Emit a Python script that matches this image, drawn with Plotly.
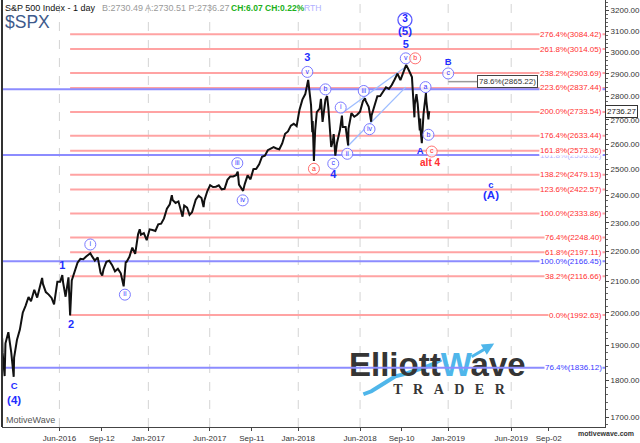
import math

import plotly.graph_objects as go

FONT = "Arial, Liberation Sans, sans-serif"
BLUE = "#1f2fff"
RED = "#ff3030"

# S&P 500 closes plus swing highs/lows
dates_2016 = [
    "2016-01-13", "2016-01-14", "2016-01-15", "2016-01-20", "2016-01-22", "2016-01-29",
    "2016-02-05", "2016-02-11", "2016-02-12", "2016-02-19", "2016-02-26",
    "2016-03-04", "2016-03-11", "2016-03-18", "2016-03-24",
    "2016-04-01", "2016-04-08", "2016-04-15", "2016-04-20", "2016-04-22", "2016-04-29",
    "2016-05-06", "2016-05-13", "2016-05-19", "2016-05-27",
    "2016-06-03", "2016-06-08", "2016-06-10", "2016-06-16", "2016-06-23", "2016-06-27",
    "2016-07-01", "2016-07-08", "2016-07-15", "2016-07-22", "2016-07-29",
    "2016-08-05", "2016-08-15", "2016-08-19", "2016-08-26",
    "2016-09-02", "2016-09-09", "2016-09-13", "2016-09-16", "2016-09-23", "2016-09-30",
    "2016-10-07", "2016-10-14", "2016-10-21", "2016-10-28",
    "2016-11-04", "2016-11-09", "2016-11-11", "2016-11-18", "2016-11-25",
    "2016-12-02", "2016-12-09", "2016-12-13", "2016-12-16", "2016-12-23", "2016-12-30",
]
values_2016 = [
    1890.3, 1921.8, 1880.3, 1812.3, 1906.9, 1940.2,
    1880.1, 1810.1, 1864.8, 1917.8, 1948.1,
    2000.0, 2022.2, 2049.6, 2035.9,
    2072.8, 2047.6, 2080.7, 2111.1, 2091.6, 2065.3,
    2057.1, 2046.6, 2025.9, 2099.1,
    2099.1, 2120.6, 2096.1, 2050.4, 2113.3, 1991.7,
    2103.0, 2129.9, 2161.7, 2175.0, 2173.6,
    2182.9, 2193.8, 2183.9, 2169.0,
    2180.0, 2127.8, 2119.1, 2139.2, 2164.7, 2168.3,
    2153.7, 2133.0, 2141.2, 2126.4,
    2083.8, 2163.3, 2164.5, 2181.9, 2213.4,
    2192.0, 2259.5, 2277.5, 2258.1, 2263.8, 2238.8,
]

dates_2017 = [
    "2017-01-06", "2017-01-13", "2017-01-20", "2017-01-27",
    "2017-02-03", "2017-02-10", "2017-02-17", "2017-02-24",
    "2017-03-01", "2017-03-03", "2017-03-10", "2017-03-17", "2017-03-24", "2017-03-27", "2017-03-31",
    "2017-04-07", "2017-04-13", "2017-04-19", "2017-04-21", "2017-04-28",
    "2017-05-05", "2017-05-12", "2017-05-17", "2017-05-19", "2017-05-26",
    "2017-06-02", "2017-06-09", "2017-06-16", "2017-06-23", "2017-06-30",
    "2017-07-07", "2017-07-14", "2017-07-21", "2017-07-28",
    "2017-08-04", "2017-08-08", "2017-08-11", "2017-08-18", "2017-08-21", "2017-08-25",
    "2017-09-01", "2017-09-08", "2017-09-15", "2017-09-22", "2017-09-29",
    "2017-10-06", "2017-10-13", "2017-10-20", "2017-10-27",
    "2017-11-03", "2017-11-10", "2017-11-17", "2017-11-24",
    "2017-12-01", "2017-12-08", "2017-12-15", "2017-12-22", "2017-12-29",
]
values_2017 = [
    2277.0, 2274.6, 2271.3, 2294.7,
    2297.4, 2316.1, 2351.2, 2367.3,
    2401.0, 2383.1, 2372.6, 2378.3, 2344.0, 2322.3, 2362.7,
    2355.5, 2329.0, 2338.2, 2348.7, 2384.2,
    2399.3, 2390.9, 2357.0, 2381.7, 2415.8,
    2439.1, 2431.8, 2433.2, 2438.3, 2423.4,
    2425.2, 2459.3, 2472.5, 2472.1,
    2476.8, 2490.9, 2441.3, 2425.6, 2417.4, 2443.1,
    2476.6, 2461.4, 2500.2, 2502.2, 2519.4,
    2549.3, 2553.2, 2575.2, 2581.1,
    2587.8, 2582.3, 2578.9, 2602.4,
    2642.2, 2651.5, 2675.8, 2683.3, 2673.6,
]

dates_2018 = [
    "2018-01-05", "2018-01-12", "2018-01-19", "2018-01-26",
    "2018-02-02", "2018-02-05", "2018-02-06", "2018-02-08", "2018-02-09", "2018-02-12",
    "2018-02-16", "2018-02-23", "2018-02-26",
    "2018-03-02", "2018-03-09", "2018-03-13", "2018-03-16", "2018-03-23", "2018-03-27", "2018-03-29",
    "2018-04-02", "2018-04-06", "2018-04-13", "2018-04-18", "2018-04-20", "2018-04-27",
    "2018-05-03", "2018-05-04", "2018-05-11", "2018-05-18", "2018-05-25",
    "2018-06-01", "2018-06-08", "2018-06-13", "2018-06-15", "2018-06-22", "2018-06-28", "2018-06-29",
    "2018-07-06", "2018-07-13", "2018-07-20", "2018-07-27",
    "2018-08-03", "2018-08-10", "2018-08-17", "2018-08-24", "2018-08-31",
    "2018-09-07", "2018-09-14", "2018-09-21", "2018-09-28",
    "2018-10-05", "2018-10-11", "2018-10-12", "2018-10-16", "2018-10-19",
    "2018-10-24", "2018-10-25", "2018-10-26", "2018-10-29",
    "2018-11-02", "2018-11-07", "2018-11-08", "2018-11-09", "2018-11-14", "2018-11-16",
]
values_2018 = [
    2743.2, 2786.2, 2810.3, 2872.9,
    2762.1, 2648.9, 2695.1, 2581.0, 2532.7, 2656.0,
    2732.2, 2747.3, 2789.2,
    2691.3, 2786.6, 2801.9, 2752.0, 2588.3, 2612.6, 2640.9,
    2553.8, 2604.5, 2656.3, 2717.5, 2670.1, 2669.9,
    2594.6, 2663.4, 2727.7, 2713.0, 2721.3,
    2734.6, 2779.0, 2791.5, 2779.7, 2754.9, 2692.0, 2718.4,
    2759.8, 2801.3, 2801.8, 2818.8,
    2840.4, 2833.3, 2850.1, 2874.7, 2901.5,
    2871.7, 2905.0, 2940.9, 2914.0,
    2885.6, 2710.5, 2767.1, 2809.9, 2767.8,
    2656.1, 2705.6, 2658.7, 2603.5,
    2723.1, 2813.9, 2815.2, 2781.0, 2701.6, 2736.3,
]

# fib extension levels (red) and retracement levels (blue)
red_levels = [3084.42, 3014.05, 2903.69, 2837.44, 2733.54, 2633.44, 2573.36,
              2479.13, 2422.57, 2333.86, 2248.40, 2197.11, 2116.66, 1992.63]
red_pcts = ["276.4%", "261.8%", "238.2%", "223.6%", "200.0%", "176.4%", "161.8%",
            "138.2%", "123.6%", "100.0%", "76.4%", "61.8%", "38.2%", "0.0%"]
red_start = "2016-06-27"

blue_levels = [2832.0, 2556.0, 2166.45, 1836.12]
blue_labels = ["", "161.8%(2556.02)", "100.0%(2166.45)", "76.4%(1836.12)"]
blue_label_colors = ["#3a3aff", "#b4b4ff", "#3a3aff", "#3a3aff"]

# wave count labels
digit_text = ["1", "2", "3", "4", "5"]
digit_x = ["2016-06-08", "2016-06-29", "2018-01-24", "2018-03-28", "2018-09-20"]
digit_y = [2149, 1961, 2970, 2476, 3031]

letter_text = ["C", "A", "B", "c"]
letter_x = ["2016-02-12", "2018-10-25", "2019-01-01", "2019-04-15"]
letter_y = [1783, 2570, 2950, 2438]

degree_text = ["(4)", "(5)", "(A)"]
degree_x = ["2016-02-12", "2018-09-18", "2019-04-15"]
degree_y = [1744, 3093, 2397]

circ_blue_text = ["i", "ii", "iii", "iv", "v", "b", "c", "i", "ii", "iii", "iv", "v", "a", "b", "c"]
circ_blue_x = ["2016-08-15", "2016-11-07", "2017-08-07", "2017-08-20", "2018-01-24",
               "2018-03-09", "2018-03-28", "2018-04-15", "2018-05-01", "2018-06-10",
               "2018-06-24", "2018-09-20", "2018-11-07", "2018-11-14", "2019-01-01"]
circ_blue_y = [2224, 2057, 2524, 2382, 2909, 2831, 2522, 2752, 2561, 2824,
               2661, 2971, 2841, 2638, 2902]

circ_red_text = ["a", "b", "c"]
circ_red_x = ["2018-02-09", "2018-10-13", "2018-11-22"]
circ_red_y = [2502, 2971, 2570]

big_circle = ("3", "2018-09-18", 3154)
alt_label = ("alt 4", "2018-11-18", 2522)

channel_upper_x = ["2018-04-18", "2018-09-20"]
channel_upper_y = [2728, 2932]
channel_lower_x = ["2018-05-02", "2018-09-20"]
channel_lower_y = [2591, 2841]

target_x = ["2019-01-01", "2019-03-12"]
target_level = 2865.22
target_label = "78.6%(2865.22)"
last_price = 2736.27

y_ticks = [1700, 1800, 1900, 2000, 2100, 2200, 2300, 2400, 2500, 2600,
           2700, 2800, 2900, 3000, 3100, 3200]
x_ticks = ["2016-06-01", "2016-09-12", "2017-01-03", "2017-06-01", "2017-09-11",
           "2018-01-02", "2018-06-01", "2018-09-10", "2019-01-01", "2019-06-03", "2019-09-02"]
x_tick_text = ["Jun-2016", "Sep-12", "Jan-2017", "Jun-2017", "Sep-11", "Jan-2018",
               "Jun-2018", "Sep-10", "Jan-2019", "Jun-2019", "Sep-02"]
grid_dates = ["2016-06-01", "2017-01-03", "2017-06-01", "2018-01-02",
              "2018-06-01", "2019-01-01", "2019-06-03"]

X_START, X_END = "2016-01-13 14:00", "2020-01-16 19:00"
Y_LOW, Y_HIGH = 1674.2, 3253.3


def paper_xy(px, py):
    # plot area spans pixels x 2..606, y 0..430
    return (px - 2) / 604, (430 - py) / 430


fig = go.Figure()

# logo (behind everything)
fig.add_trace(go.Scatter(
    x=["2018-12-05 14:00"], y=[1834.6], mode="text",
    text=["<b>Elliott<span style='color:#4fb6ea'>W</span>ave</b>"],
    textfont=dict(family=FONT, size=33, color="#353535"), hoverinfo="skip"))
fig.add_trace(go.Scatter(
    x=["2019-01-03"], y=[1772], mode="text",
    text=["<b>" + "\u2002\u2005".join("TRADER") + "</b>"],
    textfont=dict(family="Liberation Serif, serif", size=14, color="#353535"), hoverinfo="skip"))

# fib lines
rx, ry = [], []
for lvl in red_levels:
    rx += [red_start, X_END, None]
    ry += [lvl, lvl, None]
fig.add_trace(go.Scatter(x=rx, y=ry, mode="lines", line=dict(color="#ffa3a3", width=2), hoverinfo="skip"))

bx, by = [], []
for lvl in blue_levels:
    bx += [X_START, X_END, None]
    by += [lvl, lvl, None]
fig.add_trace(go.Scatter(x=bx, y=by, mode="lines", line=dict(color="#8c8cff", width=2), hoverinfo="skip"))

# channel and target pointer
fig.add_trace(go.Scatter(x=channel_upper_x, y=channel_upper_y, mode="lines",
                         line=dict(color="#9dbdff", width=1.3), hoverinfo="skip"))
fig.add_trace(go.Scatter(x=channel_lower_x, y=channel_lower_y, mode="lines",
                         line=dict(color="#9dbdff", width=1.3), hoverinfo="skip"))
fig.add_trace(go.Scatter(x=target_x, y=[target_level, target_level], mode="lines",
                         line=dict(color="#999999", width=1.5), hoverinfo="skip"))

# price
fig.add_trace(go.Scatter(x=dates_2016 + dates_2017 + dates_2018,
                         y=values_2016 + values_2017 + values_2018,
                         mode="lines", line=dict(color="#111111", width=2), hoverinfo="skip"))

# wave labels
fig.add_trace(go.Scatter(x=digit_x, y=digit_y, mode="text", text=["<b>%s</b>" % t for t in digit_text],
                         textfont=dict(family=FONT, size=11, color=BLUE), hoverinfo="skip"))
fig.add_trace(go.Scatter(x=letter_x, y=letter_y, mode="text", text=["<b>%s</b>" % t for t in letter_text],
                         textfont=dict(family=FONT, size=9.5, color=BLUE), hoverinfo="skip"))
fig.add_trace(go.Scatter(x=degree_x, y=degree_y, mode="text", text=["<b>%s</b>" % t for t in degree_text],
                         textfont=dict(family=FONT, size=11.5, color=BLUE), hoverinfo="skip"))
fig.add_trace(go.Scatter(x=[alt_label[1]], y=[alt_label[2]], mode="text", text=["<b>%s</b>" % alt_label[0]],
                         textfont=dict(family=FONT, size=10, color=RED), hoverinfo="skip"))

fig.add_trace(go.Scatter(
    x=circ_blue_x, y=circ_blue_y, mode="markers+text", text=circ_blue_text, textposition="middle center",
    marker=dict(symbol="circle", size=11, color="rgba(255,255,255,0.8)", line=dict(color="#7a7aff", width=1)),
    textfont=dict(family=FONT, size=7, color="#3535ff"), hoverinfo="skip"))
fig.add_trace(go.Scatter(
    x=circ_red_x, y=circ_red_y, mode="markers+text", text=circ_red_text, textposition="middle center",
    marker=dict(symbol="circle", size=11, color="rgba(255,255,255,0.8)", line=dict(color="#ff7070", width=1)),
    textfont=dict(family=FONT, size=7, color=RED), hoverinfo="skip"))
fig.add_trace(go.Scatter(
    x=[big_circle[1]], y=[big_circle[2]], mode="markers+text", text=["<b>%s</b>" % big_circle[0]],
    textposition="middle center",
    marker=dict(symbol="circle", size=14, color="rgba(255,255,255,0.8)", line=dict(color="#5a5aff", width=1.3)),
    textfont=dict(family=FONT, size=10, color="#1a1aff"), hoverinfo="skip"))

# level labels on the right
for lvl, lab, col in zip(blue_levels, blue_labels, blue_label_colors):
    if lab:
        fig.add_annotation(x=0.996, xref="paper", xanchor="right", y=math.log10(lvl), yref="y",
                           text=lab, showarrow=False, bgcolor="white", borderpad=0,
                           font=dict(family=FONT, size=8, color=col))
for lvl, pct in zip(red_levels, red_pcts):
    fig.add_annotation(x=0.996, xref="paper", xanchor="right", y=math.log10(lvl), yref="y",
                       text="%s(%.2f)" % (pct, lvl), showarrow=False, bgcolor="white", borderpad=0,
                       font=dict(family=FONT, size=8, color=RED))

fig.add_annotation(x=target_x[1], xanchor="left", y=math.log10(target_level), yref="y",
                   text=target_label, showarrow=False, bgcolor="white", bordercolor="#444444",
                   borderwidth=1, borderpad=1, font=dict(family=FONT, size=8, color="#333333"))
fig.add_annotation(x=1, xref="paper", xanchor="left", y=math.log10(last_price), yref="y",
                   text="%.2f" % last_price, showarrow=False, bgcolor="white", bordercolor="#333333",
                   borderwidth=1, borderpad=1, font=dict(family=FONT, size=8, color="#222222"))

# header
hx, hy = paper_xy(3, 8)
fig.add_annotation(x=hx, y=hy, xref="paper", yref="paper", xanchor="left", yanchor="middle",
                   text="S&P 500 Index - 1 day", showarrow=False, font=dict(family=FONT, size=9, color="#111111"))
hx, _ = paper_xy(100, 8)
fig.add_annotation(x=hx, y=hy, xref="paper", yref="paper", xanchor="left", yanchor="middle",
                   text="B:2730.49 A:2730.51 P:2736.27", showarrow=False,
                   font=dict(family=FONT, size=9, color="#9a9a9a"))
hx, _ = paper_xy(229, 8)
fig.add_annotation(x=hx, y=hy, xref="paper", yref="paper", xanchor="left", yanchor="middle",
                   text="<b>CH:6.07 CH:0.22%</b>", showarrow=False,
                   font=dict(family=FONT, size=8.5, color="#20b020"))
hx, _ = paper_xy(302, 8)
fig.add_annotation(x=hx, y=hy, xref="paper", yref="paper", xanchor="left", yanchor="middle",
                   text="RTH", showarrow=False, font=dict(family=FONT, size=8.5, color="#b0b0ff"))
hx, hy = paper_xy(3, 22)
fig.add_annotation(x=hx, y=hy, xref="paper", yref="paper", xanchor="left", yanchor="middle",
                   text="$SPX", showarrow=False, font=dict(family=FONT, size=17.5, color="#3d5a8c"))
hx, hy = paper_xy(4, 423)
fig.add_annotation(x=hx, y=hy, xref="paper", yref="paper", xanchor="left", yanchor="middle",
                   text="MotiveWave", showarrow=False, font=dict(family=FONT, size=9, color="#555555"))
hx, hy = paper_xy(637, 437)
fig.add_annotation(x=hx, y=hy, xref="paper", yref="paper", xanchor="right", yanchor="middle",
                   text="<b>motivewave.com</b>", showarrow=False, font=dict(family=FONT, size=7, color="#333333"))

# logo arrow
ax_, ay_ = paper_xy(495, 346)
fig.add_annotation(x=ax_, y=ay_, xref="paper", yref="paper", text="", showarrow=True,
                   ax=-24, ay=14, arrowhead=2, arrowsize=0.8, arrowwidth=3, arrowcolor="#4fb6ea")

shapes = []
for d in grid_dates:
    shapes.append(dict(type="line", xref="x", yref="paper", x0=d, x1=d, y0=0, y1=1, layer="below",
                       line=dict(color="#d4d4d4", width=1, dash="dash")))
shapes.append(dict(type="line", xref="paper", yref="paper", x0=0, x1=0, y0=0, y1=1,
                   line=dict(color="#333333", width=2)))
swoosh_px = [(364, 397), (372, 394), (380, 389), (388, 384), (396, 379), (404, 377),
             (413, 374), (423, 371), (433, 367), (442, 362)]
path = ""
for i, (px, py) in enumerate(swoosh_px):
    sx, sy = paper_xy(px, py)
    path += ("M" if i == 0 else "L") + " %.4f,%.4f " % (sx, sy)
shapes.append(dict(type="path", xref="paper", yref="paper", path=path, layer="below",
                   line=dict(color="#4fb6ea", width=4)))

fig.update_layout(
    width=640, height=443,
    margin=dict(l=2, r=34, t=0, b=13),
    paper_bgcolor="white", plot_bgcolor="white",
    showlegend=False,
    shapes=shapes,
    xaxis=dict(type="date", range=[X_START, X_END], tickmode="array", tickvals=x_ticks,
               ticktext=x_tick_text, showgrid=False, zeroline=False, showline=True,
               linecolor="#444444", linewidth=1, ticks="outside", ticklen=3, tickcolor="#444444",
               tickfont=dict(family=FONT, size=8, color="#333333")),
    yaxis=dict(type="log", side="right", range=[math.log10(Y_LOW), math.log10(Y_HIGH)],
               tickmode="array", tickvals=y_ticks, ticktext=["%.2f" % v for v in y_ticks],
               showgrid=False, zeroline=False, showline=True, linecolor="#444444", linewidth=1,
               ticks="outside", ticklen=3, tickcolor="#444444",
               minor=dict(tickmode="array", tickvals=list(range(1680, 3260, 20)), ticks="outside",
                          ticklen=2, tickcolor="#666666"),
               tickfont=dict(family=FONT, size=8, color="#333333")),
)

fig.write_html("out.html", config={"displayModeBar": False},
               post_script="document.body.style.margin='0';")
